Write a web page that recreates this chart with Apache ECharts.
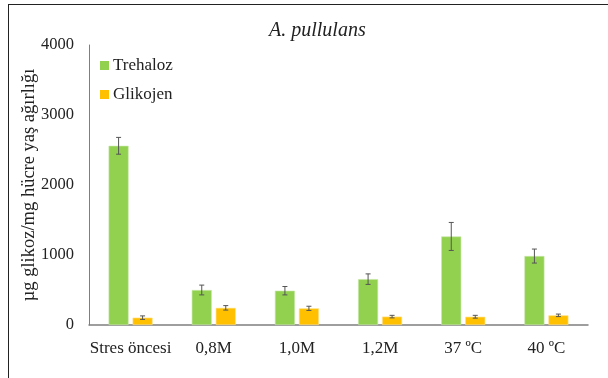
<!DOCTYPE html>
<html>
<head>
<meta charset="utf-8">
<script src="https://cdn.jsdelivr.net/npm/echarts@6/dist/echarts.min.js"></script>
<style>
  html, body { margin: 0; padding: 0; background: #fff; }
  #frame { position: absolute; left: 8px; top: 4px; width: 600px; height: 374px;
           border-left: 1.5px solid #222; border-top: 1.5px solid #222; }
  #chart { position: absolute; left: 0; top: 0; width: 608px; height: 378px; }
</style>
</head>
<body>
<div id="frame"></div>
<div id="chart"></div>
<script>
var categories = ['Stres öncesi', '0,8M', '1,0M', '1,2M', '37 ºC', '40 ºC'];
var trehaloz = [2560, 500, 490, 655, 1265, 985];
var trehalozErr = [120, 70, 60, 75, 200, 100];
var glikojen = [105, 245, 238, 120, 118, 138];
var glikojenErr = [25, 32, 30, 18, 20, 18];

var BAR_W = 20;
var fontFam = '"Liberation Serif", "DejaVu Serif", serif';

function errorSeries(values, errs, offset) {
    var data = [];
    for (let i = 0; i < values.length; i++) {
        data.push([i, values[i] - errs[i], values[i] + errs[i]]);
    }
    return {
        type: 'custom',
        silent: true,
        z: 10,
        renderItem: function (params, api) {
            var lo = api.coord([api.value(0), api.value(1)]);
            var hi = api.coord([api.value(0), api.value(2)]);
            var x = lo[0] + offset;
            var cap = 2.5;
            var st = { stroke: '#555', lineWidth: 1 };
            return {
                type: 'group',
                children: [
                    { type: 'line', shape: { x1: x, y1: lo[1], x2: x, y2: hi[1] }, style: st },
                    { type: 'line', shape: { x1: x - cap, y1: lo[1], x2: x + cap, y2: lo[1] }, style: st },
                    { type: 'line', shape: { x1: x - cap, y1: hi[1], x2: x + cap, y2: hi[1] }, style: st }
                ]
            };
        },
        encode: { x: 0, y: [1, 2] },
        data: data
    };
}

var chart = echarts.init(document.getElementById('chart'));
var op = {
    animation: false,
    textStyle: { fontFamily: fontFam },
    title: {
        text: 'A. pullulans',
        left: 264,
        top: 16,
        textStyle: { fontFamily: fontFam, fontStyle: 'italic', fontWeight: 'normal', fontSize: 20, color: '#222' }
    },
    legend: {
        orient: 'vertical',
        left: 95,
        top: 52,
        itemWidth: 9,
        itemHeight: 9,
        itemGap: 12,
        icon: 'rect',
        itemStyle: { borderWidth: 0 },
        data: ['Trehaloz', 'Glikojen'],
        textStyle: { fontFamily: fontFam, fontSize: 17, color: '#222', padding: [0, 0, 0, -1] }
    },
    grid: { left: 89, right: 20, top: 45, bottom: 53 },
    xAxis: {
        type: 'category',
        data: categories,
        axisLine: { lineStyle: { color: '#7f7f7f', width: 1.5 } },
        axisTick: { show: false },
        axisLabel: { interval: 0, fontFamily: fontFam, fontSize: 17, color: '#222', margin: 15 }
    },
    yAxis: {
        type: 'value',
        min: 0,
        max: 4000,
        interval: 1000,
        name: 'µg glikoz/mg hücre yaş ağırlığı',
        nameLocation: 'middle',
        nameRotate: 90,
        nameGap: 50,
        nameMoveOverlap: false,
        nameTextStyle: { fontFamily: fontFam, fontSize: 18.5, color: '#222' },
        axisLine: { show: true, lineStyle: { color: '#7f7f7f', width: 1 } },
        axisTick: { show: false },
        splitLine: { show: false },
        axisLabel: {
            fontFamily: fontFam, fontSize: 16.5, color: '#222', margin: 15,
            formatter: function (v) { return String(v); }
        }
    },
    series: [
        {
            name: 'Trehaloz',
            type: 'bar',
            barWidth: BAR_W,
            barGap: '20%',
            itemStyle: { color: '#92D050', borderColor: '#c8e8a8', borderWidth: 0.6 },
            data: trehaloz
        },
        {
            name: 'Glikojen',
            type: 'bar',
            barWidth: BAR_W,
            barGap: '20%',
            itemStyle: { color: '#FFC000', borderColor: '#ffe08a', borderWidth: 0.6 },
            data: glikojen
        },
        errorSeries(trehaloz, trehalozErr, -12),
        errorSeries(glikojen, glikojenErr, 12)
    ]
};
chart.setOption(op);
</script>
</body>
</html>
